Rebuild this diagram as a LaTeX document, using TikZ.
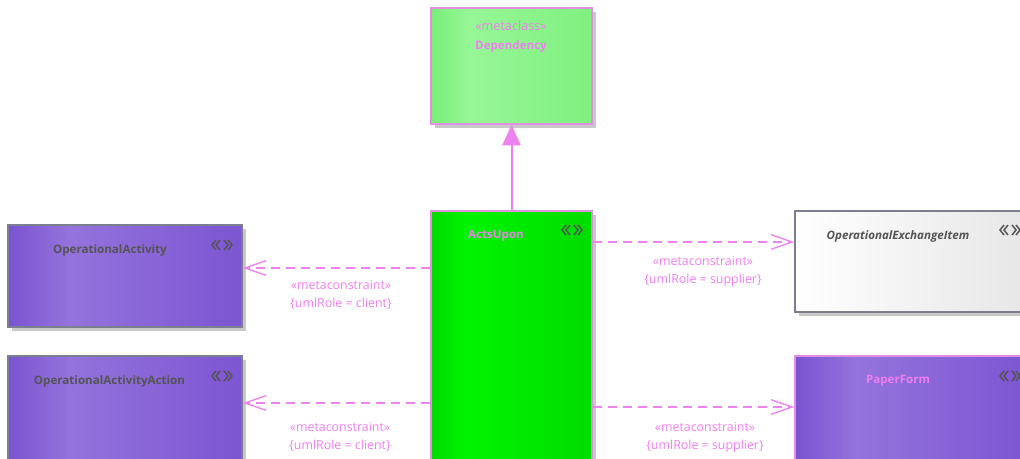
\documentclass[tikz,border=0pt]{standalone}
\usepackage{fontspec}
\setmainfont{Open Sans}
\usetikzlibrary{arrows.meta,shadows}
\definecolor{lnpink}{HTML}{EE82EE}
\definecolor{txpink}{HTML}{F07EF0}
\definecolor{bpink}{HTML}{E28EE2}
\definecolor{p1}{HTML}{7B53D1}
\definecolor{p2}{HTML}{9473DC}
\definecolor{p3}{HTML}{7C55D2}
\definecolor{g1}{HTML}{78EE78}
\definecolor{g2}{HTML}{96F796}
\definecolor{g3}{HTML}{80F080}
\definecolor{a1}{HTML}{00DA00}
\definecolor{a2}{HTML}{00F400}
\definecolor{a3}{HTML}{00DC00}
\definecolor{w1}{HTML}{FFFFFF}
\definecolor{w2}{HTML}{E6E6E6}
\definecolor{gborder}{HTML}{7A7E8E}
\definecolor{shad}{HTML}{C8C8C8}
\definecolor{dgray}{HTML}{545454}
\pgfdeclarehorizontalshading{purp}{100bp}{color(0bp)=(p1); color(25bp)=(p1); color(38bp)=(p2); color(75bp)=(p3); color(100bp)=(p3)}
\pgfdeclarehorizontalshading{depg}{100bp}{color(0bp)=(g1); color(25bp)=(g1); color(37bp)=(g2); color(75bp)=(g3); color(100bp)=(g3)}
\pgfdeclarehorizontalshading{actg}{100bp}{color(0bp)=(a1); color(25bp)=(a1); color(36bp)=(a2); color(75bp)=(a3); color(100bp)=(a3)}
\pgfdeclarehorizontalshading{whiteg}{100bp}{color(0bp)=(w1); color(25bp)=(w1); color(75bp)=(w2); color(100bp)=(w2)}
\tikzset{
  umlbox/.style={rectangle, inner sep=0pt, line width=1.1pt,
    drop shadow={shadow xshift=3pt, shadow yshift=-3pt, fill=shad, opacity=1}},
  purpbox/.style={umlbox, shading=purp, draw=gborder},
  nmtext/.style={font=\bfseries\fontsize{8.7}{10}\selectfont, inner sep=0pt},
  lbltext/.style={font=\fontsize{9.3}{13.5}\selectfont, text=txpink, align=center, inner sep=0pt},
  depline/.style={draw=lnpink, line width=1pt, dash pattern=on 6.75pt off 4.5pt,
    -{Straight Barb[length=16pt, width=11pt, line width=1pt, sep=0pt]}},
  genline/.style={draw=lnpink, line width=1.5pt, -{Triangle[length=15.5pt, width=14pt, line width=0pt, color=lnpink, fill=lnpink]}},
  stereo/.pic={
    \draw[dgray, line width=1.1pt, line join=miter]
      (-6,-5) -- (-10,0) -- (-6,5)
      (-2,-5) -- (-6,0) -- (-2,5)
      (2,-5) -- (6,0) -- (2,5)
      (6,-5) -- (10,0) -- (6,5);
  }
}
\begin{document}
\begin{tikzpicture}[x=0.75pt, y=-0.75pt]
\useasboundingbox (0,0) rectangle (1020,459);
\clip (0,0) rectangle (1020,459);
% boxes
\node[umlbox, shading=depg, draw=bpink, minimum width=120.75pt, minimum height=87pt] (dep) at (511.5,66) {};
\node[umlbox, shading=actg, draw=bpink, minimum width=120.75pt, minimum height=194.25pt] (acts) at (511.5,340.5) {};
\node[purpbox, minimum width=175.5pt, minimum height=76.5pt] (oa) at (125,276) {};
\node[purpbox, minimum width=175.5pt, minimum height=79.5pt] (oaa) at (125,409) {};
\node[umlbox, shading=whiteg, draw=gborder, minimum width=177pt, minimum height=75.75pt] (oei) at (913,261.5) {};
\node[umlbox, shading=purp, draw=bpink, minimum width=177pt, minimum height=79.5pt] (pf) at (913,409) {};
% texts
\node[font=\fontsize{9.5}{10}\selectfont, text=txpink, inner sep=0pt] (depst) at (511,26) {«metaclass»};
\node[nmtext, text=txpink] (depnm) at (511,46) {Dependency};
\node[nmtext, text=txpink] (actsnm) at (496,236) {ActsUpon};
\pic at (572,230) {stereo};
\node[nmtext, text=dgray] (oanm) at (110,250) {OperationalActivity};
\pic at (222,245) {stereo};
\node[nmtext, text=dgray] (oaanm) at (109.5,381) {OperationalActivityAction};
\pic at (222,376) {stereo};
\node[nmtext, text=dgray, font=\bfseries\itshape\fontsize{8.7}{10}\selectfont] (oeinm) at (898,236) {OperationalExchangeItem};
\pic at (1010,230) {stereo};
\node[nmtext, text=txpink] (pfnm) at (898,381) {PaperForm};
\pic at (1010,376) {stereo};
% connectors
\draw[genline] (acts.north) -- (dep.south);
\draw[depline] (acts.west |- 0,268) -- (oa.east |- 0,268);
\draw[depline] (acts.west |- 0,403) -- (oaa.east |- 0,403);
\draw[depline] (acts.east |- 0,242) -- (oei.west |- 0,242);
\draw[depline] (acts.east |- 0,407) -- (pf.west |- 0,407);
% labels
\node[lbltext] (l1) at (341,295) {«metaconstraint»\\\{umlRole = client\}};
\node[lbltext] (l2) at (340,436.5) {«metaconstraint»\\\{umlRole = client\}};
\node[lbltext] (l3) at (703,271) {«metaconstraint»\\\{umlRole = supplier\}};
\node[lbltext] (l4) at (705,437) {«metaconstraint»\\\{umlRole = supplier\}};
\end{tikzpicture}
\end{document}
